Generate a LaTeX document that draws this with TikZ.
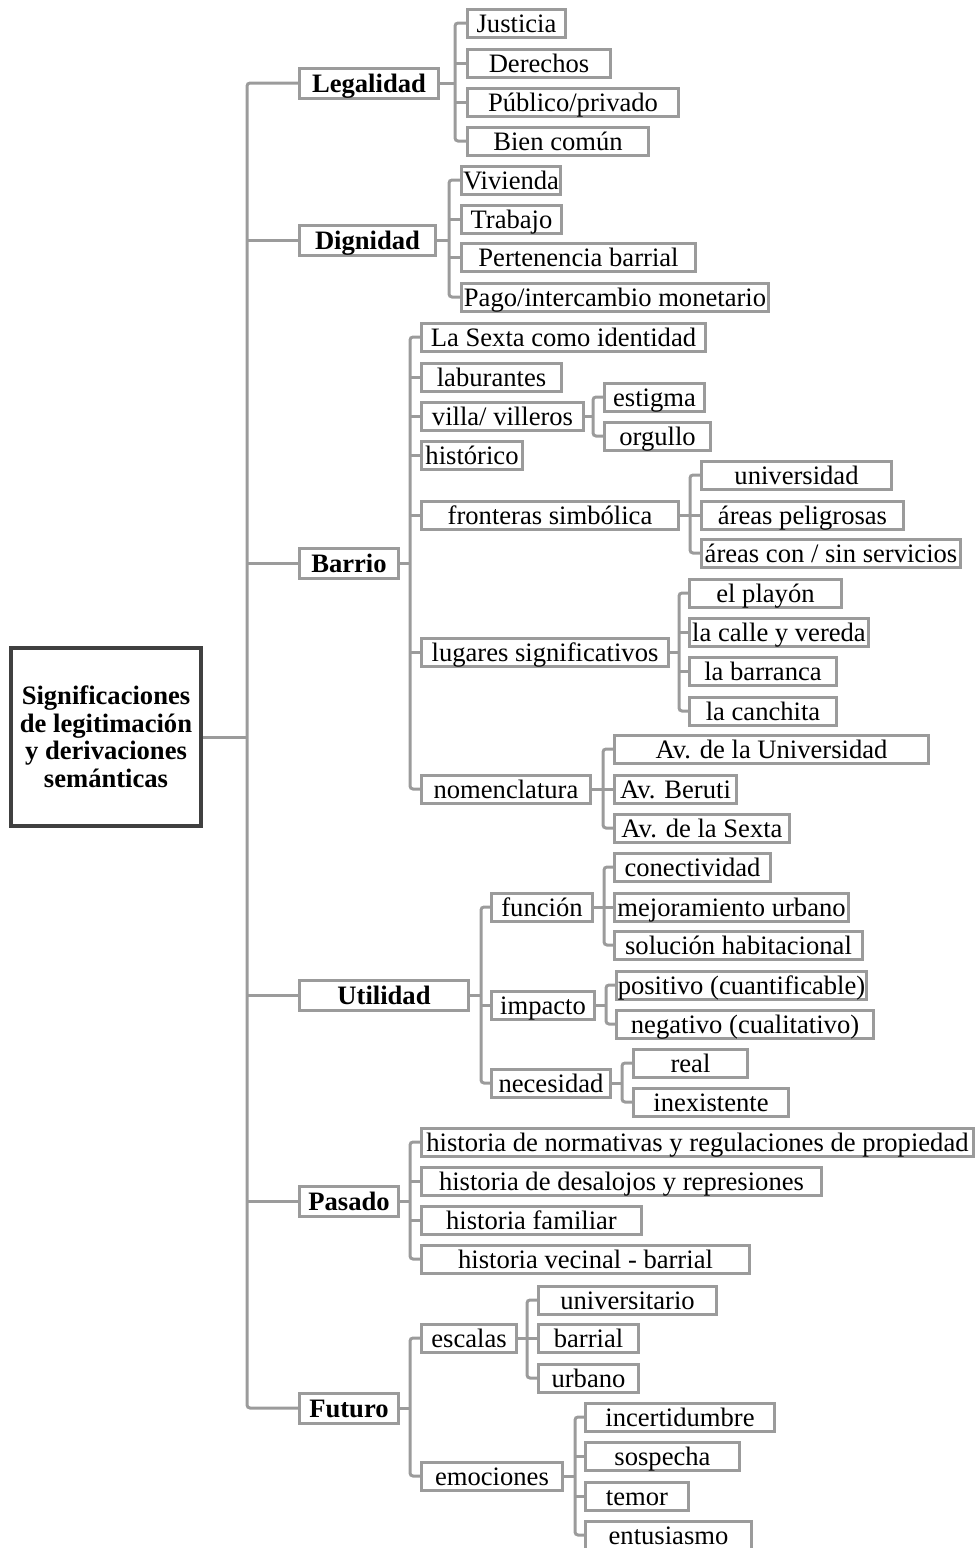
\documentclass[tikz,border=0pt]{standalone}
\usepackage{fontspec}
\setmainfont{Liberation Serif}
\usepackage{xcolor}
\usepackage{tikz}
\definecolor{grislinea}{RGB}{155,155,155}
\definecolor{grisraiz}{RGB}{64,64,64}

\begin{document}
\begin{tikzpicture}[
      x = 0.5pt, y = -0.5pt,
      every node/.style = {font=\fontsize{13.3}{14}\selectfont},
      caja/.style = {draw=grislinea, line width=1.5pt, inner sep=0pt, anchor=west,
                     text height=11.7pt, text depth=2.3pt,
                     minimum height=14pt, minimum width=#1*0.5pt-1.5pt},
      eje/.style  = {caja=#1, minimum height=15pt, text height=12.2pt, text depth=2.8pt,
                     font=\fontsize{13.3}{14}\selectfont\bfseries},
      raiz/.style = {draw=grisraiz, line width=2pt, inner sep=0pt, align=center,
                     minimum width=95pt, minimum height=89pt,
                     font=\fontsize{13.3}{13.75}\selectfont\bfseries},
      rama/.style = {draw=grislinea, line width=1.5pt, rounded corners=1.5pt}
    ]
    \useasboundingbox (0,0) rectangle (978,1548);
    \node[raiz] (root) at (106,737) {Significaciones\\de legitimación\\y derivaciones\\semánticas};

    % ejes
    \node[eje=142] (legal)  at (298,83)   {Legalidad};
    \node[eje=139] (dign)   at (298,240)  {Dignidad};
    \node[eje=102] (barrio) at (298,563)  {Barrio};
    \node[eje=172] (util)   at (298,995)  {Utilidad};
    \node[eje=102] (pasado) at (298,1201) {Pasado};
    \node[eje=102] (futuro) at (298,1408) {Futuro};

    % legalidad
    \node[caja=101] (just) at (466,23)  {Justicia};
    \node[caja=146] (der)  at (466,63)  {Derechos};
    \node[caja=214] (pub)  at (466,102) {Público/privado};
    \node[caja=184] (bien) at (466,141) {Bien común};

    % dignidad
    \node[caja=102] (viv)  at (460,180) {Vivienda};
    \node[caja=103] (trab) at (460,219) {Trabajo};
    \node[caja=237] (pert) at (460,257) {Pertenencia barrial};
    \node[caja=310] (pago) at (460,297) {Pago/intercambio monetario};

    % barrio
    \node[caja=287] (sexta) at (420,337) {La Sexta como identidad};
    \node[caja=143] (labur) at (420,377) {laburantes};
    \node[caja=165] (villa) at (420,416) {villa/ villeros};
    \node[caja=104] (hist)  at (420,455) {histórico};
    \node[caja=260] (front) at (420,515) {fronteras simbólica};
    \node[caja=250] (lugar) at (420,652) {lugares significativos};
    \node[caja=172] (nomen) at (420,789) {nomenclatura};

    \node[caja=103] (estig) at (603,397) {estigma};
    \node[caja=109] (orgu)  at (603,436) {orgullo};

    \node[caja=193] (univ) at (700,475) {universidad};
    \node[caja=205] (peli) at (700,515) {áreas peligrosas};
    \node[caja=262] (serv) at (700,553) {áreas con / sin servicios};

    \node[caja=155] (playon) at (688,593) {el playón};
    \node[caja=182] (calle)  at (688,632) {la calle y vereda};
    \node[caja=150] (barr)   at (688,671) {la barranca};
    \node[caja=150] (cancha) at (688,711) {la canchita};

    \node[caja=317] (avu)  at (613,749) {Av. de la Universidad};
    \node[caja=125] (aber) at (613,789) {Av. Beruti};
    \node[caja=178] (avs)  at (613,828) {Av. de la Sexta};

    % utilidad
    \node[caja=104] (func)  at (490,907)  {función};
    \node[caja=106] (impac) at (490,1005) {impacto};
    \node[caja=122] (neces) at (490,1083) {necesidad};

    \node[caja=159] (conec) at (613,867) {conectividad};
    \node[caja=237] (mejor) at (613,907) {mejoramiento urbano};
    \node[caja=251] (soluc) at (613,945) {solución habitacional};

    \node[caja=253] (posit) at (615,985)  {positivo (cuantificable)};
    \node[caja=260] (negat) at (615,1024) {negativo (cualitativo)};

    \node[caja=117] (real) at (632,1063) {real};
    \node[caja=158] (inex) at (632,1102) {inexistente};

    % pasado
    \node[caja=555] (norm)  at (420,1142) {historia de normativas y regulaciones de propiedad};
    \node[caja=403] (desal) at (420,1181) {historia de desalojos y represiones};
    \node[caja=223] (famil) at (420,1220) {historia familiar};
    \node[caja=331] (vecin) at (420,1259) {historia vecinal - barrial};

    % futuro
    \node[caja=98]  (escal) at (420,1338) {escalas};
    \node[caja=144] (emoc)  at (420,1476) {emociones};

    \node[caja=181] (univo)   at (537,1300) {universitario};
    \node[caja=103] (barrial) at (537,1338) {barrial};
    \node[caja=103] (urbano)  at (537,1378) {urbano};

    \node[caja=192] (incert) at (584,1417) {incertidumbre};
    \node[caja=157] (sospe)  at (584,1456) {sospecha};
    \node[caja=106] (temor)  at (584,1496) {temor};
    \node[caja=169] (entus)  at (584,1535) {entusiasmo};

    % conectores
    \coordinate (root-b) at (247,737);
    \draw[rama] (root.east) -- (root-b);
    \draw[rama] (legal.west) -| (root-b) |- (futuro.west);
    \foreach \n in {dign, barrio, util, pasado} \draw[rama] (\n.west) -- (\n.west -| root-b);

    \coordinate (legal-b) at (455,83);
    \draw[rama] (legal.east) -- (legal-b);
    \draw[rama] (just.west) -| (legal-b) |- (bien.west);
    \foreach \n in {der, pub} \draw[rama] (\n.west) -- (\n.west -| legal-b);

    \coordinate (dign-b) at (449,240);
    \draw[rama] (dign.east) -- (dign-b);
    \draw[rama] (viv.west) -| (dign-b) |- (pago.west);
    \foreach \n in {trab, pert} \draw[rama] (\n.west) -- (\n.west -| dign-b);

    \coordinate (barrio-b) at (410,563);
    \draw[rama] (barrio.east) -- (barrio-b);
    \draw[rama] (sexta.west) -| (barrio-b) |- (nomen.west);
    \foreach \n in {labur, villa, hist, front, lugar} \draw[rama] (\n.west) -- (\n.west -| barrio-b);

    \coordinate (villa-b) at (593,416);
    \draw[rama] (villa.east) -- (villa-b);
    \draw[rama] (estig.west) -| (villa-b) |- (orgu.west);

    \coordinate (front-b) at (690,515);
    \draw[rama] (front.east) -- (front-b);
    \draw[rama] (univ.west) -| (front-b) |- (serv.west);
    \draw[rama] (peli.west) -- (peli.west -| front-b);

    \coordinate (lugar-b) at (679,652);
    \draw[rama] (lugar.east) -- (lugar-b);
    \draw[rama] (playon.west) -| (lugar-b) |- (cancha.west);
    \foreach \n in {calle, barr} \draw[rama] (\n.west) -- (\n.west -| lugar-b);

    \coordinate (nomen-b) at (603,789);
    \draw[rama] (nomen.east) -- (nomen-b);
    \draw[rama] (avu.west) -| (nomen-b) |- (avs.west);
    \draw[rama] (aber.west) -- (aber.west -| nomen-b);

    \coordinate (util-b) at (481,995);
    \draw[rama] (util.east) -- (util-b);
    \draw[rama] (func.west) -| (util-b) |- (neces.west);
    \draw[rama] (impac.west) -- (impac.west -| util-b);

    \coordinate (func-b) at (604,907);
    \draw[rama] (func.east) -- (func-b);
    \draw[rama] (conec.west) -| (func-b) |- (soluc.west);
    \draw[rama] (mejor.west) -- (mejor.west -| func-b);

    \coordinate (impac-b) at (606,1005);
    \draw[rama] (impac.east) -- (impac-b);
    \draw[rama] (posit.west) -| (impac-b) |- (negat.west);

    \coordinate (neces-b) at (622,1083);
    \draw[rama] (neces.east) -- (neces-b);
    \draw[rama] (real.west) -| (neces-b) |- (inex.west);

    \coordinate (pasado-b) at (410,1201);
    \draw[rama] (pasado.east) -- (pasado-b);
    \draw[rama] (norm.west) -| (pasado-b) |- (vecin.west);
    \foreach \n in {desal, famil} \draw[rama] (\n.west) -- (\n.west -| pasado-b);

    \coordinate (futuro-b) at (410,1408);
    \draw[rama] (futuro.east) -- (futuro-b);
    \draw[rama] (escal.west) -| (futuro-b) |- (emoc.west);

    \coordinate (escal-b) at (527,1338);
    \draw[rama] (escal.east) -- (escal-b);
    \draw[rama] (univo.west) -| (escal-b) |- (urbano.west);
    \draw[rama] (barrial.west) -- (barrial.west -| escal-b);

    \coordinate (emoc-b) at (575,1476);
    \draw[rama] (emoc.east) -- (emoc-b);
    \draw[rama] (incert.west) -| (emoc-b) |- (entus.west);
    \foreach \n in {sospe, temor} \draw[rama] (\n.west) -- (\n.west -| emoc-b);
  \end{tikzpicture}
\end{document}
